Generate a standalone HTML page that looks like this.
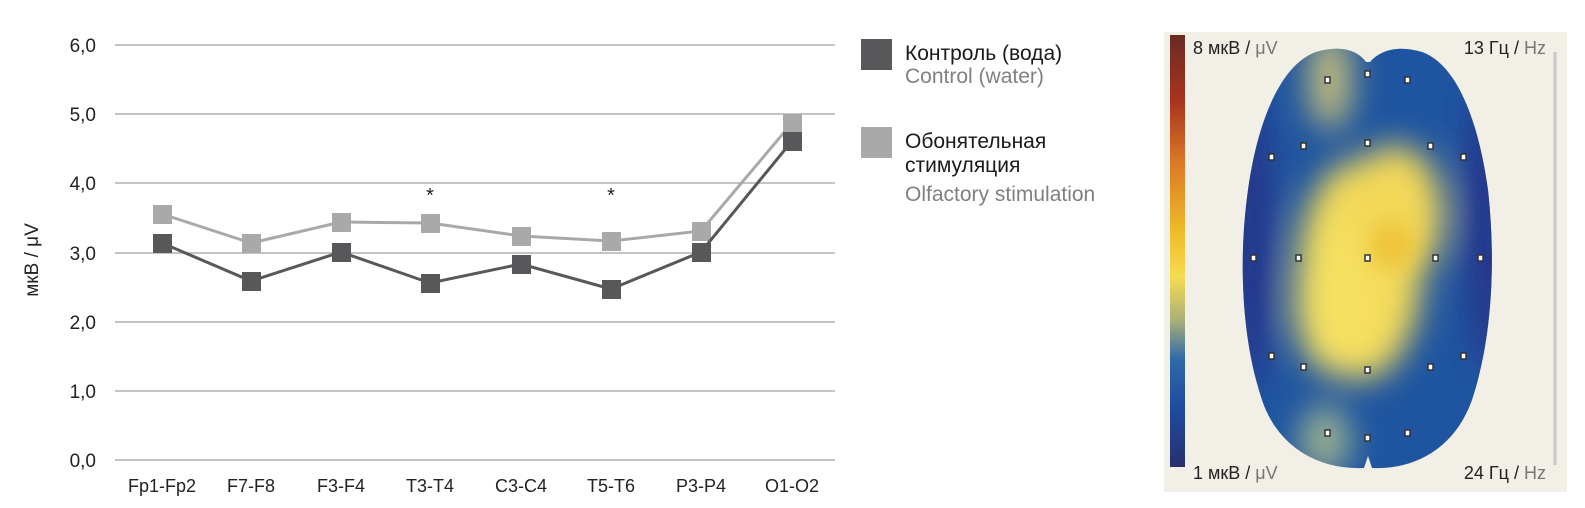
<!DOCTYPE html>
<html><head><meta charset="utf-8"><style>
html,body{margin:0;padding:0;background:#fff;}
svg{display:block;font-family:"Liberation Sans",sans-serif;}
</style></head><body>
<svg width="1585" height="508" viewBox="0 0 1585 508" xmlns="http://www.w3.org/2000/svg">
<defs>
<clipPath id="brain">
<path d="M1366,62 C1356,48 1336,46 1316,52 C1282,64 1258,118 1248,190 C1238,262 1242,340 1262,400 C1278,448 1320,470 1364,468 L1368,456 L1372,468 C1415,470 1455,448 1472,400 C1492,340 1496,262 1488,190 C1478,118 1456,64 1422,52 C1402,46 1382,48 1370,62 Z"/>
</clipPath>
<linearGradient id="cbar" x1="0" y1="0" x2="0" y2="1">
<stop offset="0" stop-color="#6b2a22"/>
<stop offset="0.15" stop-color="#a8341e"/>
<stop offset="0.3" stop-color="#dc7a26"/>
<stop offset="0.45" stop-color="#efb928"/>
<stop offset="0.56" stop-color="#f5dc50"/>
<stop offset="0.66" stop-color="#aab078"/>
<stop offset="0.75" stop-color="#2f6aa8"/>
<stop offset="0.87" stop-color="#1f4a9e"/>
<stop offset="1" stop-color="#27306e"/>
</linearGradient>
<filter id="blur" x="-50%" y="-50%" width="200%" height="200%"><feGaussianBlur stdDeviation="16"/></filter>
<filter id="blur2" x="-50%" y="-50%" width="200%" height="200%"><feGaussianBlur stdDeviation="10"/></filter>
</defs>

<g stroke="#c4c4c4" stroke-width="2">
<line x1="115" y1="45" x2="835" y2="45"/>
<line x1="115" y1="114" x2="835" y2="114"/>
<line x1="115" y1="183" x2="835" y2="183"/>
<line x1="115" y1="253" x2="835" y2="253"/>
<line x1="115" y1="322" x2="835" y2="322"/>
<line x1="115" y1="391" x2="835" y2="391"/>
<line x1="115" y1="460" x2="835" y2="460"/>
</g>
<g font-size="19" fill="#222" text-anchor="end">
<text x="96" y="52">6,0</text>
<text x="96" y="121">5,0</text>
<text x="96" y="190">4,0</text>
<text x="96" y="260">3,0</text>
<text x="96" y="329">2,0</text>
<text x="96" y="398">1,0</text>
<text x="96" y="467">0,0</text>
</g>
<text transform="translate(38,260) rotate(-90)" font-size="19" fill="#222" text-anchor="middle">мкВ / μV</text>
<g font-size="18" fill="#222" text-anchor="middle">
<text x="162" y="492">Fp1-Fp2</text>
<text x="251" y="492">F7-F8</text>
<text x="341" y="492">F3-F4</text>
<text x="430" y="492">T3-T4</text>
<text x="521" y="492">C3-C4</text>
<text x="611" y="492">T5-T6</text>
<text x="701" y="492">P3-P4</text>
<text x="792" y="492">O1-O2</text>
</g>
<g font-size="20" fill="#222" text-anchor="middle">
<text x="430" y="202">*</text>
<text x="611" y="202">*</text>
</g>
<polyline fill="none" stroke="#a9a9aa" stroke-width="3" points="162,214 251,243 341,222 430,223 521,236 611,241 701,231 792,123"/>
<g fill="#a9a9aa">
<rect x="153" y="205" width="19" height="19"/><rect x="242" y="234" width="19" height="19"/>
<rect x="332" y="213" width="19" height="19"/><rect x="421" y="214" width="19" height="19"/>
<rect x="512" y="227" width="19" height="19"/><rect x="602" y="232" width="19" height="19"/>
<rect x="692" y="222" width="19" height="19"/><rect x="783" y="114" width="19" height="19"/>
</g>
<polyline fill="none" stroke="#58585a" stroke-width="3" points="162,243 251,281 341,252 430,283 521,264 611,289 701,252 792,141"/>
<g fill="#58585a">
<rect x="153" y="234" width="19" height="19"/><rect x="242" y="272" width="19" height="19"/>
<rect x="332" y="243" width="19" height="19"/><rect x="421" y="274" width="19" height="19"/>
<rect x="512" y="255" width="19" height="19"/><rect x="602" y="280" width="19" height="19"/>
<rect x="692" y="243" width="19" height="19"/><rect x="783" y="132" width="19" height="19"/>
</g>

<rect x="861" y="39" width="31" height="31" fill="#58585a"/>
<rect x="861" y="127" width="31" height="31" fill="#a9a9aa"/>
<g font-size="21">
<text x="905" y="60" fill="#1a1a1a">Контроль (вода)</text>
<text x="905" y="83" fill="#808080">Control (water)</text>
<text x="905" y="148" fill="#1a1a1a">Обонятельная</text>
<text x="905" y="172" fill="#1a1a1a">стимуляция</text>
<text x="905" y="201" fill="#808080">Olfactory stimulation</text>
</g>

<rect x="1164" y="32" width="403" height="460" fill="#f1efe6"/>
<rect x="1170" y="35" width="15" height="432" fill="url(#cbar)"/>
<line x1="1555" y1="52" x2="1555" y2="465" stroke="#c8c8c8" stroke-width="3"/>
<g clip-path="url(#brain)">
<rect x="1230" y="40" width="270" height="440" fill="#1f55a0"/>
<g filter="url(#blur)">
<ellipse cx="1250" cy="240" rx="22" ry="150" fill="#25368a"/>
<ellipse cx="1488" cy="220" rx="22" ry="150" fill="#25368a"/>
<ellipse cx="1330" cy="80" rx="22" ry="50" fill="#c0bc7c"/>
<ellipse cx="1325" cy="440" rx="25" ry="35" fill="#9ab090"/>
<ellipse cx="1360" cy="270" rx="62" ry="110" fill="#f4dc5a"/>
<ellipse cx="1395" cy="215" rx="48" ry="70" fill="#f3d858"/>
<ellipse cx="1335" cy="300" rx="40" ry="75" fill="#f5e060"/>
</g>
<g filter="url(#blur2)">
<ellipse cx="1392" cy="245" rx="22" ry="25" fill="#efc43a"/>
</g>
</g>
<g fill="#fff" stroke="#333" stroke-width="1.5">
<rect x="1325" y="77" width="5" height="6"/><rect x="1365" y="71" width="5" height="6"/><rect x="1405" y="77" width="5" height="6"/>
<rect x="1301" y="143" width="5" height="6"/><rect x="1365" y="140" width="5" height="6"/><rect x="1428" y="143" width="5" height="6"/>
<rect x="1269" y="154" width="5" height="6"/><rect x="1461" y="154" width="5" height="6"/>
<rect x="1251" y="255" width="5" height="6"/><rect x="1296" y="255" width="5" height="6"/><rect x="1365" y="255" width="5" height="6"/><rect x="1433" y="255" width="5" height="6"/><rect x="1478" y="255" width="5" height="6"/>
<rect x="1269" y="353" width="5" height="6"/><rect x="1301" y="364" width="5" height="6"/><rect x="1365" y="367" width="5" height="6"/><rect x="1428" y="364" width="5" height="6"/><rect x="1461" y="353" width="5" height="6"/>
<rect x="1325" y="430" width="5" height="6"/><rect x="1365" y="435" width="5" height="6"/><rect x="1405" y="430" width="5" height="6"/>
</g>
<g font-size="18" fill="#222">
<text x="1193" y="54">8 мкВ / <tspan fill="#777">μV</tspan></text>
<text x="1193" y="479">1 мкВ / <tspan fill="#777">μV</tspan></text>
<text x="1546" y="54" text-anchor="end">13 Гц / <tspan fill="#777">Hz</tspan></text>
<text x="1546" y="479" text-anchor="end">24 Гц / <tspan fill="#777">Hz</tspan></text>
</g>
</svg>
</body></html>
